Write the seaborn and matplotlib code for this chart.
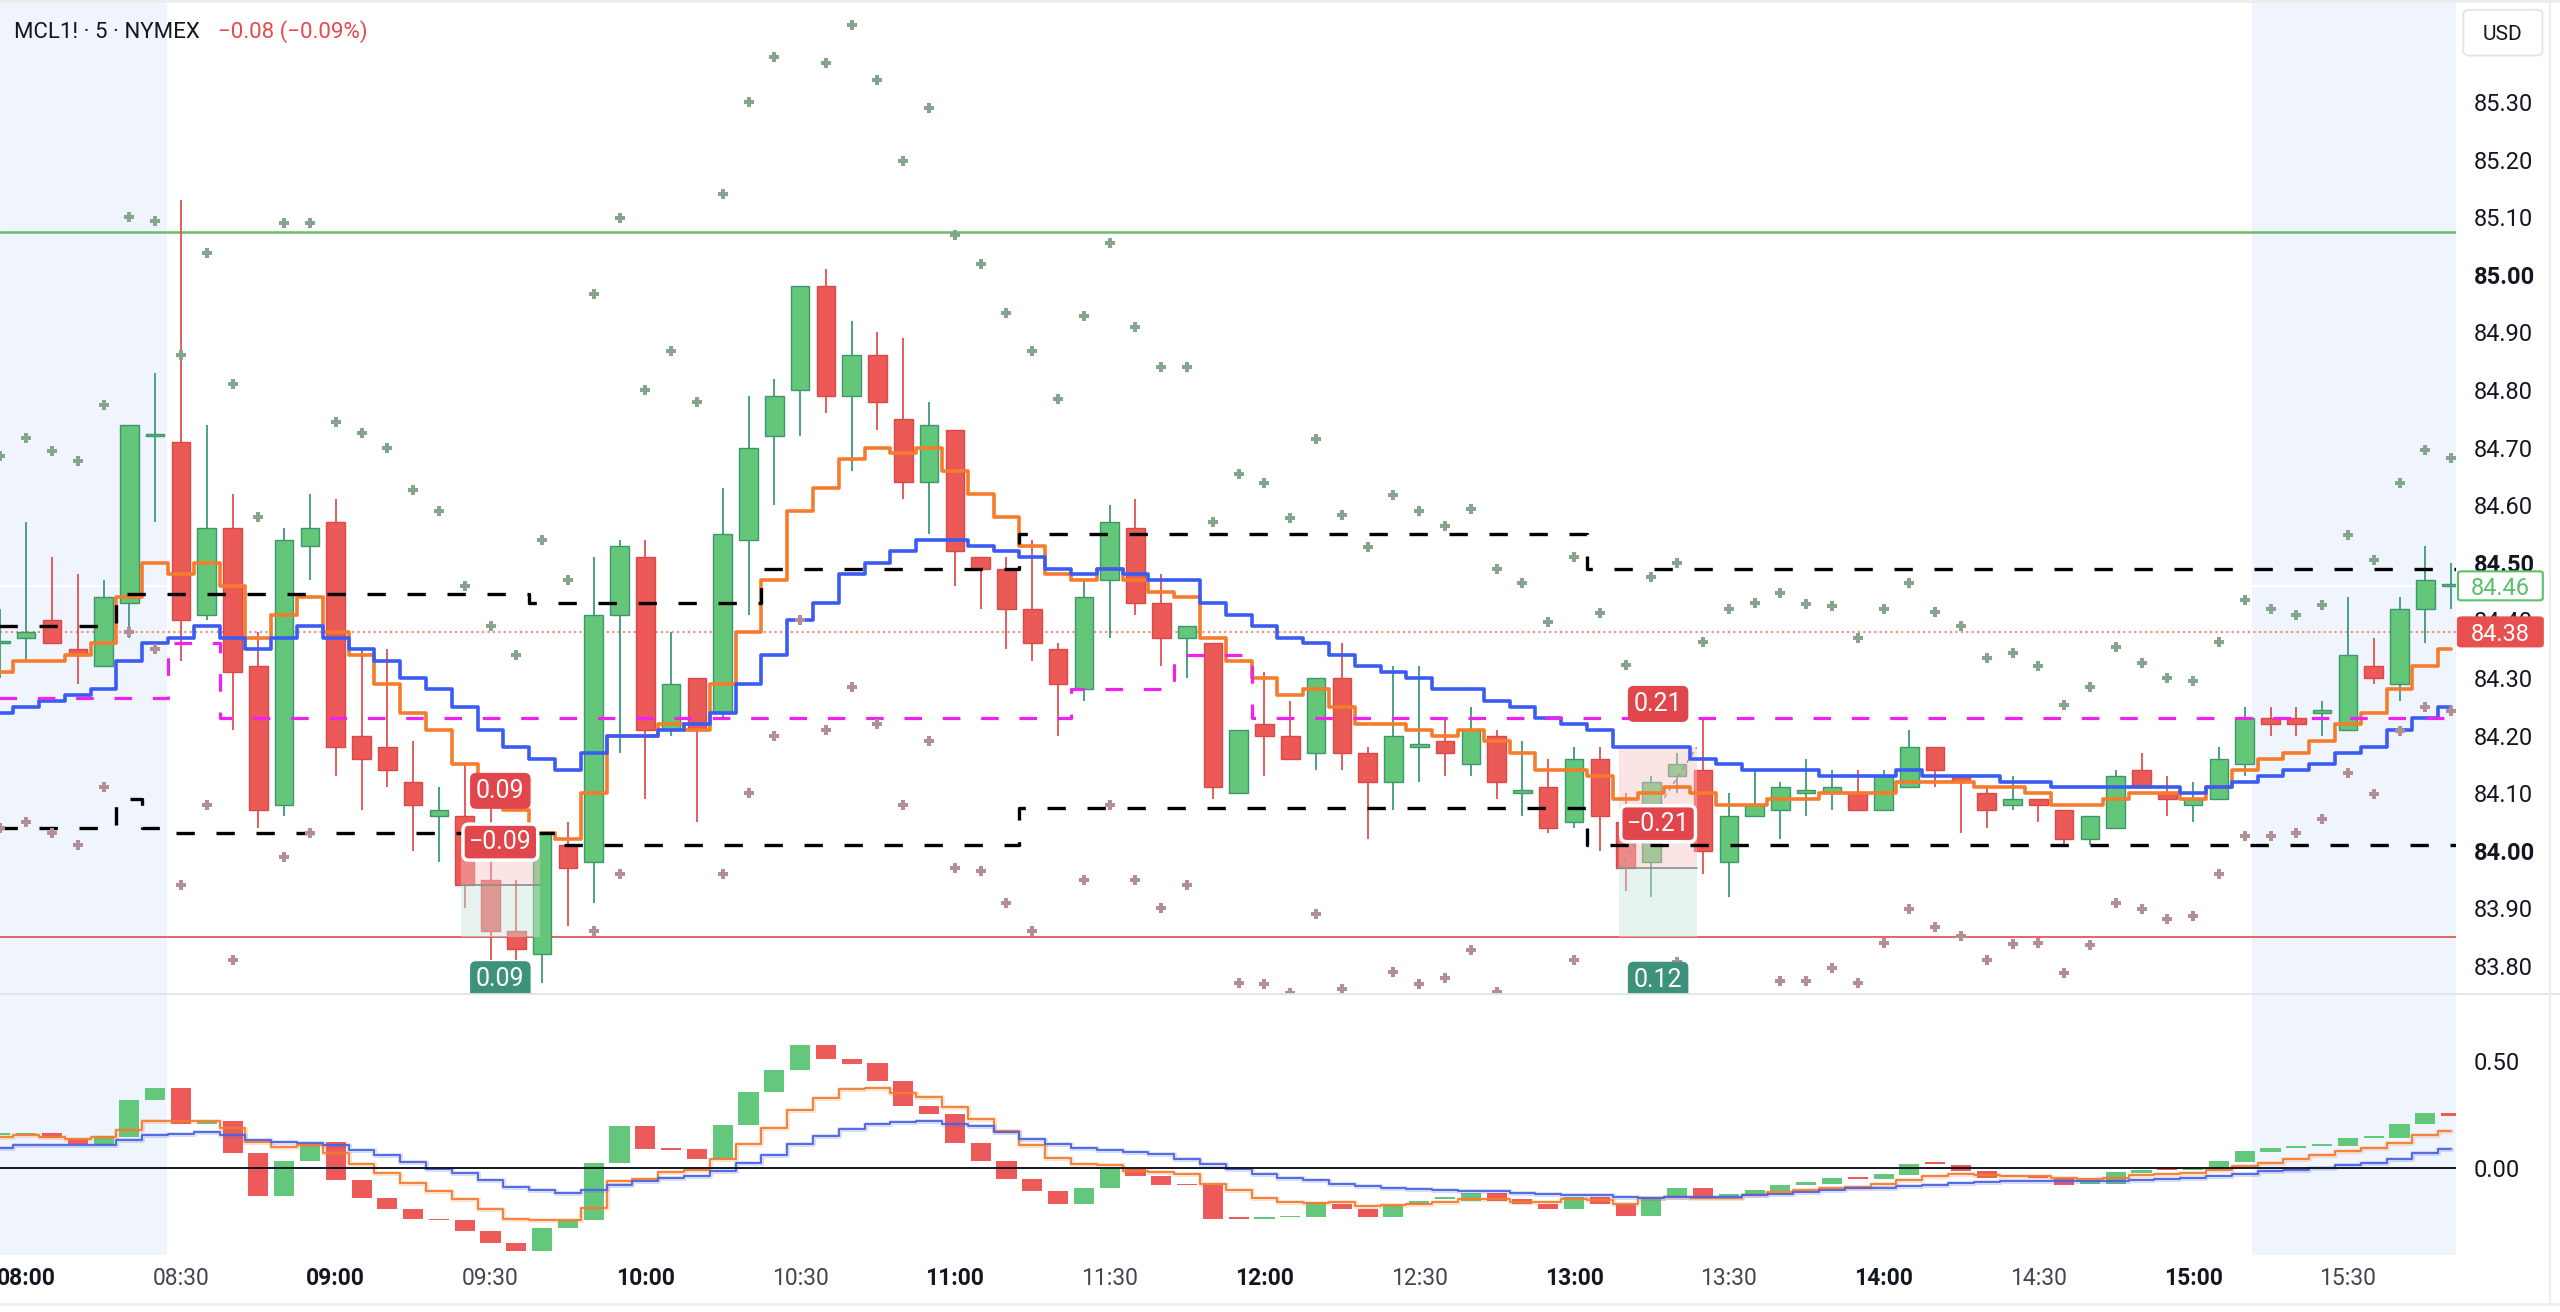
import matplotlib.pyplot as plt
from matplotlib.patches import Rectangle, FancyBboxPatch
from matplotlib.lines import Line2D
import numpy as np
import pandas as pd
import seaborn as sns

sns.set_theme(style='white')
plt.rcParams['font.family'] = ['Roboto', 'DejaVu Sans']

# 5 minute bars, bar 0 = 08:00 (bar -1 = 07:55, cut at the left edge)
bars = np.arange(-1, 95)

opens = [
    84.36, 84.37, 84.40, 84.35, 84.32, 84.43, 84.72, 84.71, 84.41, 84.56,
    84.32, 84.08, 84.53, 84.57, 84.20, 84.18, 84.12, 84.06, 84.06, 83.95,
    83.86, 83.82, 84.01, 83.98, 84.41, 84.51, 84.21, 84.30, 84.24, 84.54,
    84.72, 84.80, 84.98, 84.79, 84.86, 84.75, 84.64, 84.73, 84.51, 84.49,
    84.42, 84.35, 84.28, 84.47, 84.56, 84.43, 84.37, 84.36, 84.10, 84.22,
    84.20, 84.17, 84.30, 84.17, 84.12, 84.18, 84.19, 84.15, 84.20, 84.10,
    84.11, 84.05, 84.16, 84.05, 83.98, 84.13, 84.14, 83.98, 84.06, 84.07,
    84.10, 84.10, 84.10, 84.07, 84.11, 84.18, 84.13, 84.10, 84.08, 84.09,
    84.07, 84.02, 84.04, 84.14, 84.10, 84.08, 84.09, 84.15, 84.23, 84.23,
    84.24, 84.21, 84.32, 84.29, 84.42, 84.46]
highs = [
    84.42, 84.57, 84.51, 84.48, 84.47, 84.74, 84.83, 85.13, 84.74, 84.62,
    84.38, 84.56, 84.62, 84.61, 84.35, 84.35, 84.19, 84.11, 84.15, 84.08,
    83.95, 84.03, 84.05, 84.51, 84.54, 84.54, 84.38, 84.30, 84.63, 84.79,
    84.82, 84.98, 85.01, 84.92, 84.90, 84.89, 84.78, 84.73, 84.51, 84.51,
    84.54, 84.36, 84.47, 84.60, 84.61, 84.48, 84.39, 84.36, 84.21, 84.31,
    84.26, 84.30, 84.36, 84.18, 84.32, 84.32, 84.23, 84.25, 84.21, 84.19,
    84.16, 84.18, 84.18, 84.10, 84.13, 84.17, 84.23, 84.10, 84.14, 84.12,
    84.16, 84.14, 84.14, 84.14, 84.21, 84.18, 84.13, 84.11, 84.13, 84.09,
    84.07, 84.06, 84.14, 84.17, 84.13, 84.12, 84.18, 84.25, 84.25, 84.25,
    84.26, 84.44, 84.37, 84.44, 84.53, 84.50]
lows = [
    84.30, 84.33, 84.36, 84.29, 84.32, 84.37, 84.57, 84.33, 84.40, 84.21,
    84.04, 84.06, 84.47, 84.13, 84.07, 84.11, 84.00, 83.98, 83.90, 83.81,
    83.81, 83.77, 83.87, 83.91, 84.17, 84.09, 84.20, 84.05, 84.23, 84.41,
    84.60, 84.72, 84.76, 84.66, 84.73, 84.61, 84.55, 84.46, 84.42, 84.35,
    84.33, 84.20, 84.26, 84.37, 84.41, 84.32, 84.30, 84.09, 84.10, 84.13,
    84.16, 84.14, 84.14, 84.02, 84.07, 84.12, 84.13, 84.13, 84.09, 84.06,
    84.03, 84.04, 84.00, 83.93, 83.92, 84.10, 83.96, 83.92, 84.06, 84.02,
    84.06, 84.07, 84.07, 84.07, 84.11, 84.11, 84.03, 84.04, 84.07, 84.05,
    84.01, 84.01, 84.04, 84.11, 84.06, 84.05, 84.09, 84.13, 84.20, 84.20,
    84.20, 84.21, 84.29, 84.26, 84.36, 84.42]
closes = [
    84.365, 84.38, 84.36, 84.34, 84.44, 84.74, 84.72, 84.40, 84.56, 84.31,
    84.07, 84.54, 84.56, 84.18, 84.16, 84.14, 84.08, 84.07, 83.94, 83.86,
    83.83, 84.03, 83.97, 84.41, 84.53, 84.21, 84.29, 84.21, 84.55, 84.70,
    84.79, 84.98, 84.79, 84.86, 84.78, 84.64, 84.74, 84.52, 84.49, 84.42,
    84.36, 84.29, 84.44, 84.57, 84.43, 84.37, 84.39, 84.11, 84.21, 84.20,
    84.16, 84.30, 84.17, 84.12, 84.20, 84.185, 84.17, 84.21, 84.12, 84.105,
    84.04, 84.16, 84.06, 83.97, 84.12, 84.15, 84.00, 84.06, 84.08, 84.11,
    84.105, 84.11, 84.07, 84.13, 84.18, 84.14, 84.12, 84.07, 84.09, 84.08,
    84.02, 84.06, 84.13, 84.11, 84.09, 84.09, 84.16, 84.23, 84.22, 84.22,
    84.245, 84.34, 84.30, 84.42, 84.47, 84.46]

# moving averages on the price pane (orange = fast, blue = slow)
ma_fast = [
    84.31, 84.33, 84.33, 84.34, 84.36, 84.44, 84.50, 84.48, 84.50, 84.46,
    84.37, 84.41, 84.44, 84.38, 84.34, 84.29, 84.24, 84.21, 84.15, 84.11,
    84.07, 84.03, 84.02, 84.10, 84.20, 84.20, 84.22, 84.21, 84.29, 84.38,
    84.47, 84.59, 84.63, 84.68, 84.70, 84.69, 84.70, 84.66, 84.62, 84.58,
    84.53, 84.48, 84.47, 84.49, 84.47, 84.45, 84.44, 84.37, 84.33, 84.30,
    84.27, 84.28, 84.25, 84.22, 84.22, 84.21, 84.20, 84.21, 84.19, 84.17,
    84.14, 84.14, 84.13, 84.09, 84.10, 84.11, 84.10, 84.08, 84.08, 84.09,
    84.09, 84.10, 84.10, 84.10, 84.12, 84.12, 84.12, 84.11, 84.11, 84.10,
    84.08, 84.08, 84.09, 84.10, 84.10, 84.09, 84.11, 84.14, 84.16, 84.17,
    84.19, 84.22, 84.24, 84.28, 84.32, 84.35]
ma_slow = [
    84.24, 84.25, 84.26, 84.27, 84.28, 84.33, 84.36, 84.37, 84.39, 84.37,
    84.35, 84.37, 84.39, 84.37, 84.35, 84.33, 84.30, 84.28, 84.25, 84.21,
    84.18, 84.16, 84.14, 84.17, 84.20, 84.20, 84.21, 84.22, 84.24, 84.29,
    84.34, 84.40, 84.43, 84.48, 84.50, 84.52, 84.54, 84.54, 84.53, 84.52,
    84.51, 84.49, 84.48, 84.49, 84.48, 84.47, 84.47, 84.43, 84.41, 84.39,
    84.37, 84.36, 84.34, 84.32, 84.31, 84.30, 84.28, 84.28, 84.26, 84.25,
    84.23, 84.22, 84.21, 84.18, 84.18, 84.18, 84.16, 84.15, 84.14, 84.14,
    84.14, 84.13, 84.13, 84.13, 84.14, 84.13, 84.13, 84.13, 84.12, 84.12,
    84.11, 84.11, 84.11, 84.11, 84.11, 84.10, 84.11, 84.12, 84.13, 84.14,
    84.15, 84.17, 84.18, 84.21, 84.23, 84.25]

nan = np.nan
band_upper = [
    84.685, 84.716, 84.695, 84.677, 84.774, 85.10, 85.094, 84.86, 85.038, 84.81,
    84.58, 85.09, 85.09, 84.744, 84.725, 84.70, 84.627, 84.59, 84.46, 84.39,
    84.34, 84.54, 84.47, 84.967, 85.098, 84.80, 84.867, 84.78, 85.14, 85.30,
    85.378, nan, 85.367, 85.433, 85.338, 85.198, 85.29, 85.07, 85.018, 84.934,
    84.867, 84.785, 84.929, 85.056, 84.91, 84.84, 84.84, 84.57, 84.655, 84.638,
    84.578, 84.715, 84.583, 84.527, 84.618, 84.59, 84.564, 84.593, 84.49, 84.465,
    84.397, 84.51, 84.413, 84.322, 84.476, 84.50, 84.363, 84.42, 84.43, 84.448,
    84.428, 84.425, 84.37, 84.42, 84.465, 84.414, 84.39, 84.334, 84.343, 84.32,
    84.253, 84.285, 84.353, 84.326, 84.30, 84.295, 84.363, 84.436, 84.419, 84.41,
    84.426, 84.548, 84.504, 84.638, 84.696, 84.682]
band_lower = [
    84.04, 84.05, 84.03, 84.01, 84.11, 84.38, 84.35, 83.94, 84.08, 83.81,
    nan, 83.99, 84.03, nan, nan, nan, nan, nan, nan, nan,
    nan, nan, nan, 83.86, 83.96, nan, nan, nan, 83.96, 84.10,
    84.20, 84.40, 84.21, 84.285, 84.22, 84.08, 84.19, 83.97, 83.965, 83.91,
    83.86, nan, 83.95, 84.08, 83.95, 83.90, 83.94, nan, 83.77, 83.768,
    83.753, 83.89, 83.76, nan, 83.79, 83.769, 83.779, 83.828, 83.754, nan,
    nan, 83.81, nan, nan, nan, 83.806, nan, nan, nan, 83.773,
    83.773, 83.797, 83.77, 83.84, 83.898, 83.867, 83.852, 83.81, 83.838, 83.84,
    83.788, 83.837, 83.91, 83.898, 83.882, 83.887, 83.96, 84.026, 84.025, 84.03,
    84.056, 84.135, 84.098, 84.208, 84.249, 84.242]

# stepped levels: change points (bar edges) and values
hi_lvl_x = [-1.5, 3.5, 19.5, 28.5, 38.5, 60.5, 94.5]
hi_lvl = [84.39, 84.445, 84.43, 84.49, 84.55, 84.49, 84.49]
lo_lvl_x = [-1.5, 3.5, 4.5, 5.5, 20.5, 38.5, 60.5, 94.5]
lo_lvl = [84.04, 84.09, 84.04, 84.03, 84.01, 84.075, 84.01, 84.01]
mid_lvl_x = [-1.5, 5.5, 7.5, 40.5, 44.5, 47.5, 94.5]
mid_lvl = [84.265, 84.36, 84.23, 84.28, 84.34, 84.23, 84.23]

level_green = 85.075
level_red = 83.85
prev_close = 84.38
last_price = 84.46

# short position tools
pos_x0 = [16.86, 61.76]
pos_x1 = [19.9, 64.76]
pos_entry = [83.94, 83.97]
pos_stop = [84.03, 84.18]
pos_target = [83.85, 83.85]
pos_stop_txt = ['0.09', '0.21']
pos_stop_y = [84.104, 84.255]
pos_pnl_txt = ['\u22120.09', '\u22120.21']
pos_pnl_y = [84.015, 84.047]
pos_tgt_txt = ['0.09', '0.12']
pos_tgt_y = [83.777, 83.776]

# oscillator pane
osc_open = [
    0.155, 0.152, 0.164, 0.136, 0.105, 0.144, 0.319, 0.373, 0.206, 0.217,
    0.070, -0.133, 0.031, 0.120, -0.059, -0.145, -0.195, -0.239, -0.247, -0.297,
    -0.356, -0.390, -0.283, -0.247, 0.023, 0.194, 0.089, 0.086, 0.042, 0.198,
    0.355, 0.456, 0.577, 0.511, 0.492, 0.405, 0.288, 0.250, 0.116, 0.030,
    -0.052, -0.109, -0.169, -0.095, -0.005, -0.039, -0.077, -0.080, -0.236, -0.239,
    -0.234, -0.234, -0.169, -0.192, -0.231, -0.177, -0.148, -0.158, -0.119, -0.148,
    -0.169, -0.195, -0.136, -0.173, -0.227, -0.142, -0.098, -0.134, -0.122, -0.109,
    -0.080, -0.075, -0.044, -0.055, -0.033, 0.023, 0.011, -0.017, -0.045, -0.039,
    -0.048, -0.075, -0.078, -0.025, -0.002, -0.012, -0.012, 0.027, 0.073, 0.092,
    0.102, 0.102, 0.139, 0.139, 0.206, 0.258]
osc_close = [
    0.164, 0.164, 0.139, 0.109, 0.148, 0.319, 0.373, 0.206, 0.217, 0.070,
    -0.133, 0.031, 0.113, -0.059, -0.145, -0.195, -0.239, -0.247, -0.297, -0.356,
    -0.390, -0.283, -0.247, 0.023, 0.194, 0.089, 0.083, 0.042, 0.198, 0.355,
    0.460, 0.577, 0.511, 0.488, 0.405, 0.288, 0.250, 0.116, 0.030, -0.052,
    -0.109, -0.169, -0.095, -0.005, -0.039, -0.080, -0.083, -0.242, -0.242, -0.231,
    -0.227, -0.161, -0.195, -0.231, -0.177, -0.156, -0.140, -0.117, -0.158, -0.169,
    -0.195, -0.136, -0.173, -0.227, -0.142, -0.098, -0.148, -0.128, -0.106, -0.080,
    -0.067, -0.047, -0.052, -0.031, 0.016, 0.016, -0.017, -0.048, -0.039, -0.048,
    -0.083, -0.059, -0.020, -0.012, -0.012, -0.002, 0.030, 0.077, 0.092, 0.102,
    0.111, 0.139, 0.148, 0.206, 0.258, 0.242]
osc_fast = [
    0.144, 0.152, 0.144, 0.136, 0.144, 0.175, 0.219, 0.219, 0.219, 0.186,
    0.120, 0.097, 0.105, 0.070, 0.019, -0.025, -0.072, -0.109, -0.148, -0.195,
    -0.239, -0.247, -0.247, -0.188, -0.063, -0.055, -0.023, -0.013, 0.039, 0.113,
    0.186, 0.272, 0.328, 0.367, 0.373, 0.350, 0.331, 0.284, 0.230, 0.170,
    0.108, 0.045, 0.019, 0.014, -0.017, -0.020, -0.031, -0.075, -0.106, -0.142,
    -0.161, -0.164, -0.161, -0.180, -0.177, -0.169, -0.161, -0.148, -0.148, -0.161,
    -0.161, -0.148, -0.153, -0.173, -0.142, -0.138, -0.145, -0.141, -0.127, -0.114,
    -0.106, -0.098, -0.091, -0.075, -0.059, -0.039, -0.031, -0.033, -0.039, -0.041,
    -0.048, -0.052, -0.047, -0.036, -0.031, -0.025, -0.013, 0.006, 0.023, 0.042,
    0.058, 0.077, 0.092, 0.116, 0.152, 0.172]
osc_slow = [
    0.092, 0.105, 0.105, 0.108, 0.108, 0.128, 0.155, 0.159, 0.167, 0.152,
    0.128, 0.120, 0.117, 0.108, 0.081, 0.061, 0.027, -0.005, -0.025, -0.059,
    -0.091, -0.106, -0.117, -0.106, -0.083, -0.064, -0.048, -0.039, -0.017, 0.023,
    0.058, 0.109, 0.148, 0.183, 0.203, 0.214, 0.217, 0.206, 0.195, 0.167,
    0.136, 0.113, 0.092, 0.084, 0.073, 0.066, 0.042, 0.016, -0.005, -0.028,
    -0.048, -0.059, -0.075, -0.086, -0.095, -0.102, -0.106, -0.109, -0.111, -0.117,
    -0.123, -0.127, -0.130, -0.138, -0.142, -0.138, -0.138, -0.138, -0.130, -0.122,
    -0.114, -0.106, -0.098, -0.094, -0.088, -0.080, -0.072, -0.067, -0.064, -0.064,
    -0.064, -0.064, -0.064, -0.059, -0.055, -0.048, -0.041, -0.028, -0.016, -0.009,
    0.000, 0.011, 0.023, 0.042, 0.069, 0.086]

time_ticks = [0, 6, 12, 18, 24, 30, 36, 42, 48, 54, 60, 66, 72, 78, 84, 90]
time_labels = ['08:00', '08:30', '09:00', '09:30', '10:00', '10:30', '11:00', '11:30',
               '12:00', '12:30', '13:00', '13:30', '14:00', '14:30', '15:00', '15:30']
price_ticks = [83.8, 83.9, 84.0, 84.1, 84.2, 84.3, 84.4, 84.5, 84.6, 84.7, 84.8, 84.9,
               85.0, 85.1, 85.2, 85.3]
bold_prices = ['84.00', '84.50', '85.00']
osc_ticks = [0.0, 0.5]

# colours
UP, UP_EDGE, UP_WICK = '#63c679', '#3e966e', '#3e9a78'
DN, DN_EDGE, DN_WICK = '#eb5a56', '#dc4848', '#e05050'
SHADE = '#f0f5fd'
INK = '#131722'

# layout measured on a 1563 x 802 grid of the screenshot
GW, GH = 1563.0, 802.0
def fx(x):
    return x / GW
def fy(y):
    return 1 - y / GH

XMIN, XMAX = -1.016, 94.19

fig = plt.figure(figsize=(25.6, 13.12), dpi=100)
fig.patch.set_facecolor('white')
ax = fig.add_axes([0, fy(607), fx(1499.5), fy(1.5) - fy(607)])
ax2 = fig.add_axes([0, fy(767), fx(1499.5), fy(607.5) - fy(767)])

for a in (ax, ax2):
    a.axvspan(XMIN, 5.45, color=SHADE, lw=0, zorder=0)
    a.axvspan(86.3, XMAX, color=SHADE, lw=0, zorder=0)

# ---- price pane
ax.axhline(level_green, color='#6dbb6a', lw=1.8, zorder=1)
ax.axhline(level_red, color='#e0585a', lw=1.3, zorder=1)
ax.axhline(prev_close, color='#f08a80', lw=1.5, ls=(0, (1, 1.6)), zorder=1)
ax.axhline(last_price, color='white', lw=1.5, zorder=0.5)

df = pd.DataFrame({'bar': bars, 'open': opens, 'high': highs, 'low': lows, 'close': closes})
up = (df['close'] >= df['open']).values
body_lo = df[['open', 'close']].min(axis=1)
body_h = (df['close'] - df['open']).abs().clip(lower=0.004)
ax.vlines(df['bar'], df['low'], df['high'], colors=np.where(up, UP_WICK, DN_WICK).tolist(),
          lw=1.3, zorder=3)
ax.bar(df['bar'], body_h, bottom=body_lo, width=0.72, color=np.where(up, UP, DN).tolist(),
       edgecolor=np.where(up, UP_EDGE, DN_EDGE).tolist(), linewidth=1.0, zorder=3.2)

# position tools
for x0, x1, en, st, tg in zip(pos_x0, pos_x1, pos_entry, pos_stop, pos_target):
    ax.add_patch(Rectangle((x0, en), x1 - x0, st - en, facecolor='#f6c4c4', alpha=0.45,
                           lw=0, zorder=3.6))
    ax.add_patch(Rectangle((x0, tg), x1 - x0, en - tg, facecolor='#cbe5da', alpha=0.45,
                           lw=0, zorder=3.6))
    ax.plot([x0, x1], [en, en], color='#8c8c8c', lw=1.2, zorder=3.7)
ax.plot([pos_x0[1], pos_x1[1]], [pos_entry[1], pos_stop[1]], color='#9a9a9a', lw=1.0,
        ls=(0, (3, 3)), zorder=3.7)

sns.lineplot(x=bars, y=ma_fast, ax=ax, color='#f47c2c', linewidth=2.6,
             drawstyle='steps-mid', zorder=4)
sns.lineplot(x=bars, y=ma_slow, ax=ax, color='#3a5cf2', linewidth=2.6,
             drawstyle='steps-mid', zorder=4)

dash = (0, (5.5, 6.5))
ax.plot(hi_lvl_x, hi_lvl, drawstyle='steps-post', color='black', lw=2.4, ls=dash, zorder=5)
ax.plot(lo_lvl_x, lo_lvl, drawstyle='steps-post', color='black', lw=2.4, ls=dash, zorder=5)
ax.plot(mid_lvl_x, mid_lvl, drawstyle='steps-post', color='#f022ee', lw=2.3, ls=dash, zorder=5)

sns.scatterplot(x=bars, y=band_upper, ax=ax, marker='P', s=62, color='#86a58d',
                linewidth=0, zorder=6)
sns.scatterplot(x=bars, y=band_lower, ax=ax, marker='P', s=62, color='#b48e95',
                linewidth=0, zorder=6)

lab_kw = dict(ha='center', va='center', fontsize=18, color='white', zorder=10, clip_on=False)
for i in range(len(pos_x0)):
    xc = (pos_x0[i] + pos_x1[i]) / 2
    ax.text(xc, pos_stop_y[i], pos_stop_txt[i],
            bbox=dict(boxstyle='round,pad=0.24', fc='#e0464b', ec='none'), **lab_kw)
    ax.text(xc, pos_pnl_y[i], pos_pnl_txt[i],
            bbox=dict(boxstyle='round,pad=0.24', fc='#e0464b', ec='white', lw=2.5), **lab_kw)
    ax.text(xc, pos_tgt_y[i], pos_tgt_txt[i],
            bbox=dict(boxstyle='round,pad=0.24', fc='#3e917a', ec='none'), **lab_kw)

ax.set_xlim(XMIN, XMAX)
ax.set_ylim(83.753, 85.473)
ax.yaxis.tick_right()
ax.set_yticks(price_ticks)
ax.set_yticklabels([f'{p:.2f}' for p in price_ticks])
for t in ax.get_yticklabels():
    if t.get_text() in bold_prices:
        t.set_fontweight('bold')
ax.tick_params(axis='y', length=0, pad=12.6, labelsize=17, labelcolor=INK)
ax.tick_params(axis='x', length=0, labelbottom=False)
ax.set_xlabel('')
ax.set_ylabel('')

# ---- oscillator pane
o = np.array(osc_open)
c = np.array(osc_close)
osc_up = c >= o
ax2.bar(bars, np.maximum(np.abs(c - o), 0.008), bottom=np.minimum(o, c), width=0.78,
        color=np.where(osc_up, '#64c87c', '#ec5a5a').tolist(), lw=0, zorder=3)
for vals, col in ((osc_fast, '#f47b30'), (osc_slow, '#4a62e0')):
    sns.lineplot(x=bars, y=vals, ax=ax2, color=col, linewidth=3.6, alpha=0.22,
                 drawstyle='steps-mid', zorder=4)
    sns.lineplot(x=bars, y=vals, ax=ax2, color=col, linewidth=1.3,
                 drawstyle='steps-mid', zorder=4.2)
ax2.axhline(0, color=INK, lw=1.4, zorder=4.5)

ax2.set_xlim(XMIN, XMAX)
ax2.set_ylim(-0.409, 0.8155)
ax2.yaxis.tick_right()
ax2.set_yticks(osc_ticks)
ax2.set_yticklabels([f'{v:.2f}' for v in osc_ticks])
ax2.tick_params(axis='y', length=0, pad=12.6, labelsize=17, labelcolor=INK)
ax2.set_xticks(time_ticks)
ax2.set_xticklabels(time_labels)
ax2.tick_params(axis='x', length=0, pad=9, labelsize=16.5)
for t in ax2.get_xticklabels():
    if t.get_text().endswith(':00'):
        t.set_fontweight('bold')
        t.set_color(INK)
    else:
        t.set_color('#434651')
ax2.set_xlabel('')
ax2.set_ylabel('')

for a in (ax, ax2):
    a.grid(False)
    for s in a.spines.values():
        s.set_visible(False)

# ---- frame lines
for yy, col in ((0.8, '#ececec'), (607.5, '#e0e3eb'), (797, '#eceef2')):
    fig.add_artist(Line2D([0, 1], [fy(yy), fy(yy)], transform=fig.transFigure,
                          color=col, lw=2.0 if yy != 607.5 else 1.3))
fig.add_artist(Line2D([fx(1557), fx(1557)], [fy(0), fy(797)], transform=fig.transFigure,
                      color='#eceef2', lw=1.5))

# ---- right scale price labels
def fig_y(a, v):
    return fig.transFigure.inverted().transform(a.transData.transform((0, v)))[1]

box_h = 29 / 1312
for val, fc, ec, tc in ((last_price, 'white', '#5cbf6a', '#5cbf6a'),
                        (prev_close, '#e8504f', '#e8504f', 'white')):
    yc = fig_y(ax, val)
    fig.add_artist(FancyBboxPatch((fx(1500.7), yc - box_h / 2), fx(1552.5) - fx(1500.7), box_h,
                                  boxstyle='round,pad=0,rounding_size=0.0015',
                                  transform=fig.transFigure, fc=fc, ec=ec, lw=1.5, zorder=5))
    fig.text(fx(1526.6), yc, f'{val:.2f}', ha='center', va='center_baseline', fontsize=17,
             color=tc, zorder=6)

fig.add_artist(FancyBboxPatch((fx(1504), fy(34)), fx(1552.3) - fx(1504), fy(6) - fy(34),
                              boxstyle='round,pad=0,rounding_size=0.003',
                              transform=fig.transFigure, fc='white', ec='#e0e3eb', lw=1.3,
                              zorder=5))
fig.text(fx(1528), fy(20), 'USD', ha='center', va='center_baseline', fontsize=15,
         color=INK, zorder=6)

# ---- header
fig.text(14.4 / 2560, 1 - 38.3 / 1312, 'MCL1! \u00b7 5 \u00b7 NYMEX', ha='left',
         va='baseline', fontsize=16, color=INK)
fig.text(218 / 2560, 1 - 38.3 / 1312, '\u22120.08 (\u22120.09%)', ha='left',
         va='baseline', fontsize=16, color='#e8494d')

fig.savefig('out.png', dpi=100, facecolor='white')
